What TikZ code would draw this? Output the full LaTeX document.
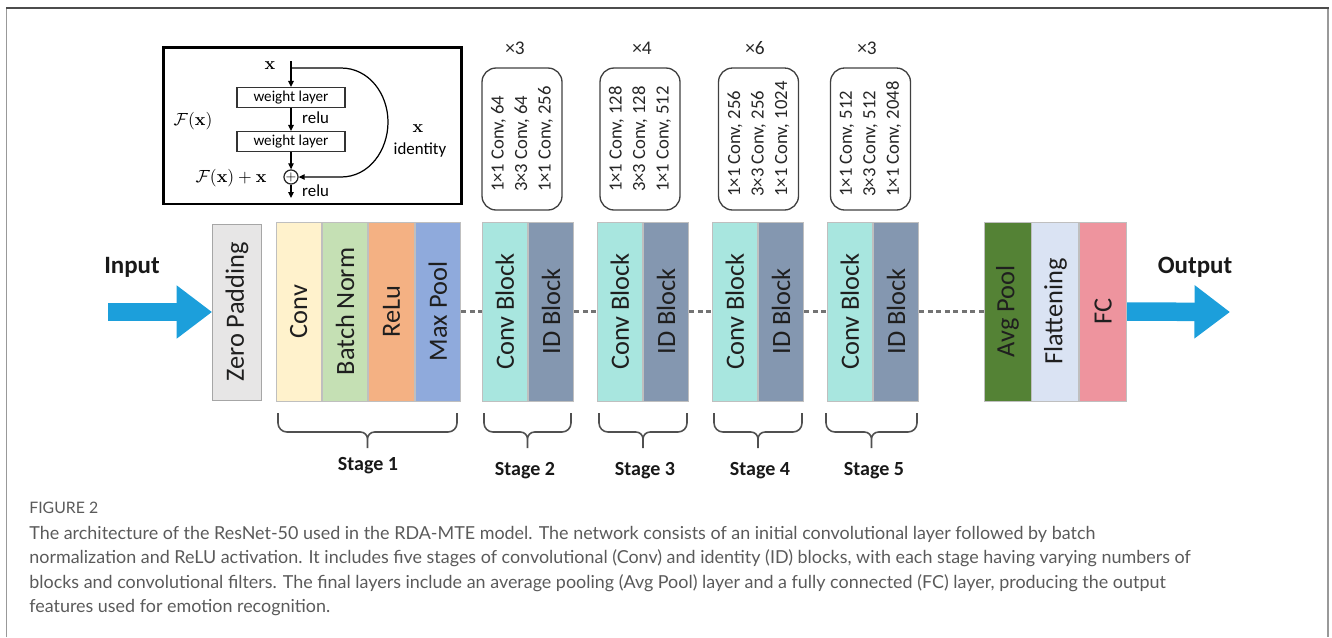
\documentclass[tikz,border=0pt]{standalone}
\usepackage[no-math]{fontspec}
\setmainfont{Carlito}
\newfontfamily\capfont{Lato}
\usetikzlibrary{arrows.meta,calc}

\definecolor{zpfill}{HTML}{E7E6E6}
\definecolor{convfill}{HTML}{FFF2CC}
\definecolor{bnfill}{HTML}{C5E0B4}
\definecolor{relufill}{HTML}{F4B183}
\definecolor{mpfill}{HTML}{8FAADC}
\definecolor{cbfill}{HTML}{A8E6DF}
\definecolor{idfill}{HTML}{8497B0}
\definecolor{apfill}{HTML}{548235}
\definecolor{flfill}{HTML}{DAE3F3}
\definecolor{fcfill}{HTML}{EE949E}
\definecolor{flow}{HTML}{1C9FDB}
\definecolor{edge}{HTML}{BFBFBF}
\definecolor{inkgray}{HTML}{505050}
\definecolor{captext}{HTML}{5A5A5A}
\definecolor{boxline}{HTML}{404040}

% curly brace under a stage, between two x positions (in px units)
\newcommand\stagebrace[2]{%
  \pgfmathsetmacro\bm{(#1+#2)/2}%
  \draw[brc] (#1,413) -- (#1,423) to[out=-90,in=180] (#1+9,432) -- (\bm-7,432)
             to[out=0,in=90] (\bm,439) -- (\bm,448)
             (\bm,439) to[out=90,in=180] (\bm+7,432) -- (#2-9,432)
             to[out=0,in=-90] (#2,423) -- (#2,413);}

\begin{document}
\begin{tikzpicture}[x=0.02cm,y=-0.02cm,
  blk/.style={draw=edge, line width=0.5pt, minimum width=0.91cm, minimum height=3.58cm,
    inner sep=0pt, font=\fontsize{15}{17}\selectfont, text=black!88},
  sbox/.style={draw=boxline, line width=0.75pt, rounded corners=0.28cm, rotate=90,
    minimum width=2.84cm, minimum height=1.6cm, align=left, inner sep=0pt,
    font=\fontsize{10.6}{13.4}\selectfont, text=black!85},
  times/.style={font=\fontsize{11}{12}\selectfont, text=black!85},
  dashline/.style={draw=black!55, line width=1.4pt, dash pattern=on 0.1cm off 0.07cm},
  bigarrow/.style={draw=flow, line width=0.37cm, line cap=butt,
    -{Triangle[length=0.71cm,width=1.02cm]}},
  flowlabel/.style={font=\bfseries\fontsize{14.2}{16}\selectfont, text=black!90},
  stagelabel/.style={font=\bfseries\fontsize{11.4}{13}\selectfont, text=black!90},
  brc/.style={draw=inkgray, line width=0.9pt},
  wlayer/.style={draw=black!80, line width=0.7pt, minimum width=2.16cm, minimum height=0.4cm,
    inner sep=0pt, font=\fontsize{8.6}{9}\selectfont},
  small/.style={font=\fontsize{9.6}{10}\selectfont},
  flowtip/.style={line width=0.7pt, -{Triangle[length=0.12cm,width=0.11cm]}},
  capline/.style={anchor=base west, inner sep=0pt, text=captext,
    font=\capfont\fontsize{10.2}{12}\selectfont}
]
\useasboundingbox (0,0) rectangle (1332,637);

% outer frame
\draw[black!40, line width=0.8pt] (6.5,637) -- (6.5,8) (1328,8) -- (1328,637);
\draw[black!70, line width=0.9pt] (6,8) -- (1328.5,8);

% ---------- residual block inset ----------
\node[draw=black, line width=1.7pt, minimum width=5.98cm, minimum height=3.14cm, inner sep=0pt]
  (inset) at (312.5,125.5) {};
\node[wlayer] (wl1) at (291,97.5) {weight layer};
\node[wlayer] (wl2) at (291,141.5) {weight layer};
\node[circle, draw=black!85, line width=0.7pt, minimum size=0.27cm, inner sep=0pt,
      font=\fontsize{7}{7}\selectfont] (add) at (291,177) {$+$};
\coordinate (xtop) at (291,61);
\coordinate (branch) at (291,68);
\coordinate (xout) at (291,198);
\draw[flowtip] (xtop) -- (wl1.north);
\draw[flowtip] (wl1.south) -- (wl2.north);
\draw[flowtip] (wl2.south) -- (add.north);
\draw[flowtip] (add.south) -- (xout);
\draw[flowtip] (branch) -- (341,68) to[out=0,in=90] (388,122) to[out=-90,in=0] (341,177) -- (add.east);
\node[small] (xlab) at (270,66) {$\mathbf{x}$};
\node[small, anchor=west] (relu1) at (296,118) {relu};
\node[small, anchor=west] (relu2) at (296,191) {relu};
\node[small] (fx) at (193,121) {$\mathcal{F}(\mathbf{x})$};
\node[small] (fxx) at (231,178) {$\mathcal{F}(\mathbf{x}) + \mathbf{x}$};
\node[small] (xid) at (418,129) {$\mathbf{x}$};
\node[small] (ident) at (420,150) {identity};

% ---------- bottleneck configurations ----------
\node[sbox] (cfg2) at (522,139) {1×1 Conv, 64\\3×3 Conv, 64\\1×1 Conv, 256};
\node[sbox] (cfg3) at (640,139) {1×1 Conv, 128\\3×3 Conv, 128\\1×1 Conv, 512};
\node[sbox] (cfg4) at (758.5,139) {1×1 Conv, 256\\3×3 Conv, 256\\1×1 Conv, 1024};
\node[sbox] (cfg5) at (870.5,139) {1×1 Conv, 512\\3×3 Conv, 512\\1×1 Conv, 2048};
\node[times] (rep2) at (515,48) {×3};
\node[times] (rep3) at (642,48) {×4};
\node[times] (rep4) at (755,48) {×6};
\node[times] (rep5) at (867,48) {×3};

% ---------- main pipeline ----------
\node[blk, draw=black!35, fill=zpfill, minimum width=0.98cm, minimum height=3.52cm] (zp) at (237,312)
  {\rotatebox{90}{Zero Padding}};

\node[blk, fill=convfill] (conv) at (298.75,311.5) {\rotatebox{90}{Conv}};
\node[blk, fill=bnfill, anchor=west] (bn) at (conv.east) {\rotatebox{90}{Batch Norm}};
\node[blk, fill=relufill, anchor=west] (relu) at (bn.east) {\rotatebox{90}{ReLu}};
\node[blk, fill=mpfill, anchor=west] (mp) at (relu.east) {\rotatebox{90}{Max Pool}};

\node[blk, fill=cbfill] (cb2) at (504.75,311.5) {\rotatebox{90}{Conv Block}};
\node[blk, fill=idfill, anchor=west] (id2) at (cb2.east) {\rotatebox{90}{ID Block}};
\node[blk, fill=cbfill] (cb3) at (619.75,311.5) {\rotatebox{90}{Conv Block}};
\node[blk, fill=idfill, anchor=west] (id3) at (cb3.east) {\rotatebox{90}{ID Block}};
\node[blk, fill=cbfill] (cb4) at (734.75,311.5) {\rotatebox{90}{Conv Block}};
\node[blk, fill=idfill, anchor=west] (id4) at (cb4.east) {\rotatebox{90}{ID Block}};
\node[blk, fill=cbfill] (cb5) at (849.75,311.5) {\rotatebox{90}{Conv Block}};
\node[blk, fill=idfill, anchor=west] (id5) at (cb5.east) {\rotatebox{90}{ID Block}};

\node[blk, fill=apfill, minimum width=0.94cm] (ap) at (1007.5,311.5) {\rotatebox{90}{Avg Pool}};
\node[blk, fill=flfill, minimum width=0.94cm, anchor=west] (fl) at (ap.east) {\rotatebox{90}{Flattening}};
\node[blk, fill=fcfill, minimum width=0.94cm, anchor=west] (fc) at (fl.east) {\rotatebox{90}{FC}};

% dotted links between stages
\draw[dashline] (mp.east) -- (cb2.west);
\draw[dashline] (id2.east) -- (cb3.west);
\draw[dashline] (id3.east) -- (cb4.west);
\draw[dashline] (id4.east) -- (cb5.west);
\draw[dashline] (id5.east) -- (ap.west);

% input / output
\coordinate (inL) at (108,312);
\coordinate (outR) at (1230,312);
\draw[bigarrow] (inL) -- (zp.west);
\draw[bigarrow] (fc.east) -- (outR);
\node[flowlabel] (inlab) at (132,267) {Input};
\node[flowlabel] (outlab) at (1195,267) {Output};

% ---------- stage braces ----------
\stagebrace{278}{457}
\stagebrace{484}{571}
\stagebrace{599}{687}
\stagebrace{714}{802}
\stagebrace{826}{917}
\node[stagelabel] (st1) at (368,466) {Stage 1};
\node[stagelabel] (st2) at (525,471) {Stage 2};
\node[stagelabel] (st3) at (645,471) {Stage 3};
\node[stagelabel] (st4) at (760,471) {Stage 4};
\node[stagelabel] (st5) at (874,471) {Stage 5};

% ---------- caption ----------
\node[capline, font=\capfont\fontsize{9}{11}\selectfont] (figno) at (29,513) {FIGURE 2};
\node[capline] (cap1) at (29,539) {The architecture of the ResNet-50 used in the RDA-MTE model. The network consists of an initial convolutional layer followed by batch};
\node[capline] (cap2) at (29,563.5) {normalization and ReLU activation. It includes five stages of convolutional (Conv) and identity (ID) blocks, with each stage having varying numbers of};
\node[capline] (cap3) at (29,588) {blocks and convolutional filters. The final layers include an average pooling (Avg Pool) layer and a fully connected (FC) layer, producing the output};
\node[capline] (cap4) at (29,612.5) {features used for emotion recognition.};
\end{tikzpicture}
\end{document}
